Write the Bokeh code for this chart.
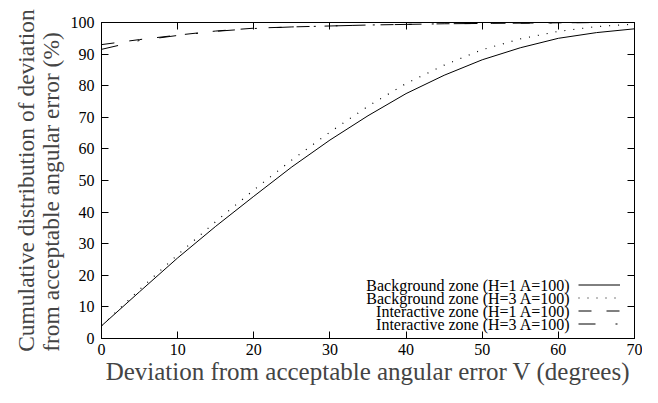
from bokeh.plotting import figure
from bokeh.models import (LinearAxis, Range1d, Title, Label, Legend, LegendItem,
                          FixedTicker)
from bokeh.core.properties import value
from bokeh.embed import file_html
from bokeh.resources import INLINE

# ---- data ----
deviation = [0, 5, 10, 15, 20, 25, 30, 35, 40, 45, 50, 55, 60, 65, 70]
bg_h1 = [4.0, 14.8, 25.5, 35.5, 45.0, 54.3, 62.8, 70.5, 77.5, 83.3, 88.2, 92.0, 95.0, 96.8, 98.0]
bg_h3 = [4.0, 15.5, 26.5, 37.0, 47.0, 56.5, 65.3, 73.5, 80.7, 86.5, 91.4, 94.8, 97.2, 98.7, 99.5]
int_h1 = [93.0, 94.6, 96.0, 97.3, 98.2, 98.6, 98.9, 99.2, 99.4, 99.6, 99.7, 99.8, 99.9, 100.0, 100.0]
int_h3 = [91.5, 94.3, 95.9, 97.2, 98.1, 98.6, 98.9, 99.2, 99.4, 99.6, 99.7, 99.8, 99.9, 100.0, 100.0]
series_names = ["Background zone (H=1 A=100)", "Background zone (H=3 A=100)",
                "Interactive zone (H=1 A=100)", "Interactive zone (H=3 A=100)"]
x_ticks = [0, 10, 20, 30, 40, 50, 60, 70]
y_ticks = [0, 10, 20, 30, 40, 50, 60, 70, 80, 90, 100]
x_label = "Deviation from acceptable angular error V (degrees)"
y_label = "Cumulative distribution of deviation\nfrom acceptable angular error (%)"

FONT = "Liberation Serif"

p = figure(width=642, height=387, output_backend="svg", toolbar_location=None,
           x_range=Range1d(0, 70), y_range=Range1d(0, 100),
           x_axis_location=None, y_axis_location=None,
           min_border_left=101, min_border_right=8, min_border_top=22,
           min_border_bottom=0)
p.xgrid.visible = False
p.ygrid.visible = False
p.outline_line_color = "black"
p.outline_line_width = 1
p.background_fill_color = "white"
p.border_fill_color = "white"


def style_axis(ax, labels=True):
    ax.axis_line_color = "black"
    ax.major_tick_line_color = "black"
    ax.major_tick_in = 7
    ax.major_tick_out = 0
    ax.minor_tick_line_color = None
    ax.major_label_text_font = FONT
    ax.major_label_text_color = "black"
    if labels:
        ax.major_label_text_font_size = "16px"
        ax.major_label_standoff = 7
    else:
        ax.major_label_text_font_size = "0px"
        ax.major_label_text_color = None
        ax.major_label_standoff = 0


xb = LinearAxis(ticker=FixedTicker(ticks=x_ticks))
style_axis(xb)
xb.major_label_standoff = 5
xb.axis_label = x_label
xb.axis_label_text_font = FONT
xb.axis_label_text_font_size = "25px"
xb.axis_label_text_font_style = "normal"
xb.axis_label_standoff = 0
p.add_layout(xb, "below")

yl = LinearAxis(ticker=FixedTicker(ticks=y_ticks))
style_axis(yl)
p.add_layout(yl, "left")

xt = LinearAxis(ticker=FixedTicker(ticks=x_ticks))
style_axis(xt, labels=False)
p.add_layout(xt, "above")

yr = LinearAxis(ticker=FixedTicker(ticks=y_ticks))
style_axis(yr, labels=False)
p.add_layout(yr, "right")

p.add_layout(Title(text=y_label, align="center", text_font=FONT,
                   text_font_size="23.5px", text_font_style="normal",
                   text_line_height=0.95, standoff=7, offset=0), "left")

r1 = p.line(deviation, bg_h1, line_color="black", line_width=1)
r2 = p.line(deviation, bg_h3, line_color="black", line_width=1.2, line_dash="1 8")
r3 = p.line(deviation, int_h1, line_color="black", line_width=1, line_dash="13 15")
r4 = p.line(deviation, int_h3, line_color="black", line_width=1, line_dash="17 20 2 20")

legend = Legend(items=[LegendItem(label=value(""), renderers=[r]) for r in (r1, r2, r3, r4)],
                location=(477, 8), orientation="vertical",
                glyph_width=42, glyph_height=13, spacing=0, padding=0, margin=0,
                label_width=0, label_height=13, label_standoff=0,
                label_text_font_size="0px", label_text_color=None,
                border_line_color=None, background_fill_alpha=0)
p.add_layout(legend)

row_y = [53, 40, 27, 14]
for name, yy in zip(series_names, row_y):
    p.add_layout(Label(x=469, y=yy, x_units="screen", y_units="screen", text=name,
                       text_align="right", text_baseline="middle", text_font=FONT,
                       text_font_size="16px", text_color="black"))

open("out.html", "w").write(file_html(p, INLINE))
